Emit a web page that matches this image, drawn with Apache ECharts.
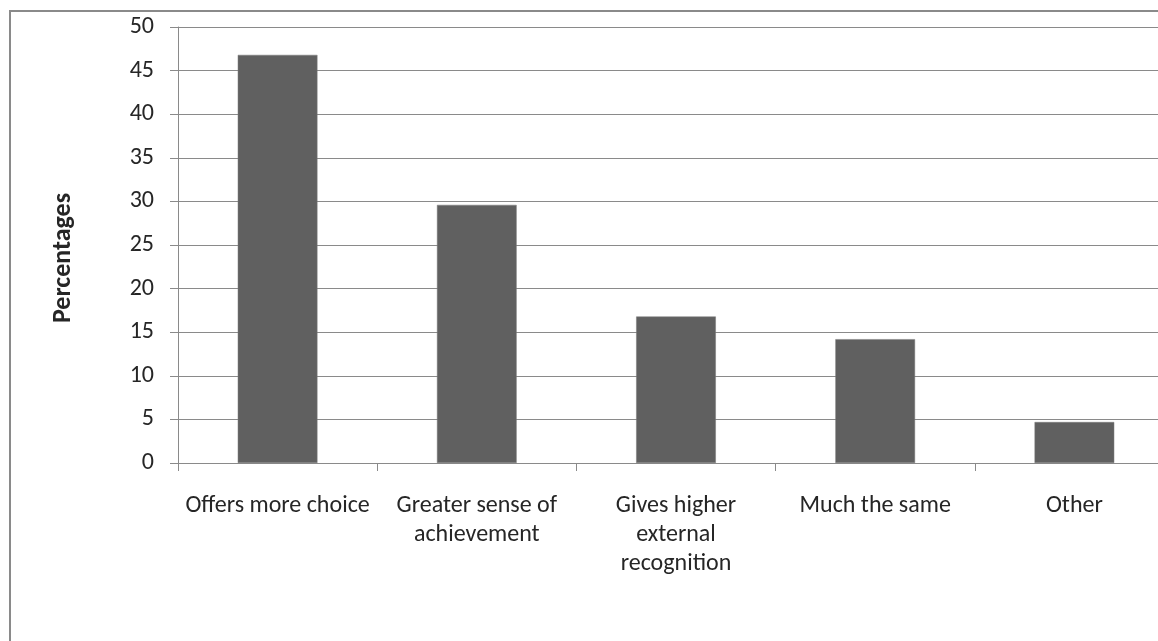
<!DOCTYPE html>
<html>
<head>
<meta charset="utf-8">
<script src="https://cdn.jsdelivr.net/npm/echarts@6/dist/echarts.min.js"></script>
<style>
html,body{margin:0;padding:0;background:#fff;overflow:hidden;width:1158px;height:641px;}
#chart{width:1174px;height:641px;}
</style>
</head>
<body>
<div id="chart"></div>
<script>
const categories = ["Offers more choice", "Greater sense of\nachievement", "Gives higher\nexternal\nrecognition", "Much the same", "Other"];
const values = [46.8, 29.6, 16.8, 14.2, 4.7];
const yTicks = [0, 5, 10, 15, 20, 25, 30, 35, 40, 45, 50];
const yTitle = "Percentages";

const FONT = 'Carlito, "Open Sans", sans-serif';
const chart = echarts.init(document.getElementById('chart'), null, {renderer: 'canvas'});
chart.setOption({
  animation: false,
  backgroundColor: '#fff',
  graphic: [{
    type: 'rect', silent: true, z: -1,
    shape: {x: 10, y: 11, width: 1300, height: 800},
    style: {fill: 'none', stroke: '#8a8a8a', lineWidth: 2}
  }],
  grid: {left: 178, top: 27, height: 436, right: 0, containLabel: false, outerBoundsMode: 'none'},
  xAxis: {
    type: 'category',
    data: categories,
    boundaryGap: true,
    axisLine: {lineStyle: {color: '#8a8a8a', width: 1}},
    axisTick: {show: true, length: 8, inside: false, alignWithLabel: false, lineStyle: {color: '#8a8a8a'}},
    axisLabel: {interval: 0, margin: 28, color: '#262626', fontFamily: FONT, fontSize: 24, lineHeight: 29, align: 'center'},
    splitLine: {show: false}
  },
  yAxis: {
    type: 'value',
    min: yTicks[0], max: yTicks[yTicks.length - 1], interval: 5,
    name: yTitle,
    nameLocation: 'middle',
    nameGap: 102,
    nameRotate: 90,
    nameTextStyle: {fontFamily: FONT, fontWeight: 'bold', fontSize: 26, color: '#262626', padding: [0, 26, 0, 0]},
    axisLine: {show: true, lineStyle: {color: '#8a8a8a', width: 1}},
    axisTick: {show: true, length: 8, lineStyle: {color: '#8a8a8a'}},
    axisLabel: {margin: 24, color: '#262626', fontFamily: FONT, fontSize: 24},
    splitLine: {show: true, lineStyle: {color: '#8a8a8a', width: 1}}
  },
  series: [{
    type: 'bar',
    data: values,
    barWidth: '40%',
    itemStyle: {color: '#606060', borderColor: '#7a7a7a', borderWidth: 0.5}
  }]
});
</script>
</body>
</html>
